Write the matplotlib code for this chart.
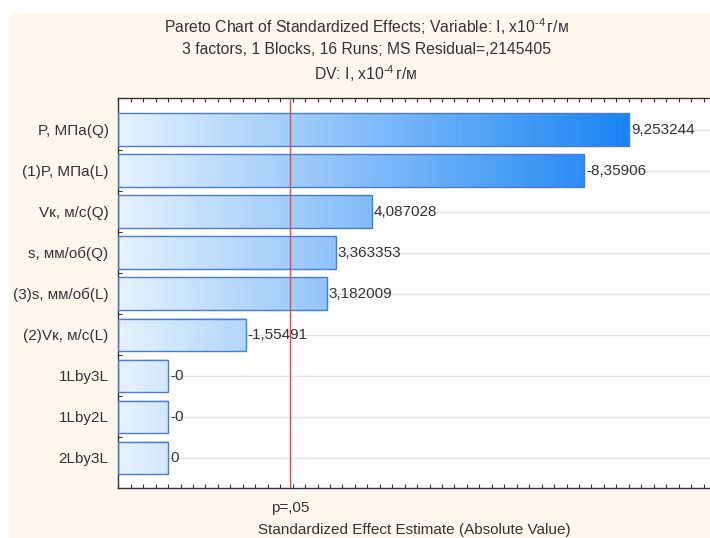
import numpy as np
import matplotlib
matplotlib.use("Agg")
import matplotlib.pyplot as plt
from matplotlib.colors import LinearSegmentedColormap, Normalize
from matplotlib.patches import Rectangle
from matplotlib.ticker import MultipleLocator, FixedLocator

plt.rcParams['font.family'] = ['Liberation Sans', 'DejaVu Sans']
plt.rcParams['mathtext.fontset'] = 'custom'
plt.rcParams['mathtext.rm'] = 'Liberation Sans'
plt.rcParams['mathtext.it'] = 'Liberation Sans'

# ---- data ----
effect_names = ["P, МПа(Q)", "(1)P, МПа(L)", "Vк, м/с(Q)", "s, мм/об(Q)",
                "(3)s, мм/об(L)", "(2)Vк, м/с(L)", "1Lby3L", "1Lby2L", "2Lby3L"]
effect_values = [9.253244, -8.35906, 4.087028, 3.363353, 3.182009,
                 -1.55491, -0.0, -0.0, 0.0]
p_critical = 2.446912
p_label = "p=,05"
title_lines = ["Pareto Chart of Standardized Effects; Variable: I, x10$^{\\text{-4}}\\,$г/м",
               "3 factors, 1 Blocks, 16 Runs; MS Residual=,2145405",
               "DV: I, x10$^{\\text{-4}}\\,$г/м"]
xlabel = "Standardized Effect Estimate (Absolute Value)"

xmin, xmax = -1.0, 10.88
text_color = "#333333"
fs = 11

fig = plt.figure(figsize=(7.10, 5.38), dpi=100)
fig.patch.set_facecolor("white")
fig.add_artist(Rectangle((10/710, 0), 1, 1 - 13/538, transform=fig.transFigure,
                         facecolor="#fdf8ee", edgecolor="none", zorder=0))

ax = fig.add_axes([118.3/710, 1 - 488.3/538, (710 - 118.3)/710, (488.3 - 98.3)/538])
ax.set_facecolor("white")

ypos = np.arange(len(effect_names))
absvals = np.abs(effect_values)
bars = ax.barh(ypos, absvals - xmin, left=xmin, height=0.79,
               facecolor="none", edgecolor="#4a7bd4", linewidth=1.0, zorder=3)

cmap = LinearSegmentedColormap.from_list("grad", ["#e6f2fe", "#1a84f4"])
norm = Normalize(vmin=xmin, vmax=max(absvals))
for b in bars:
    x0, x1 = b.get_x(), b.get_x() + b.get_width()
    y0, y1 = b.get_y(), b.get_y() + b.get_height()
    grad = np.linspace(x0, x1, 256).reshape(1, -1)
    ax.imshow(grad, cmap=cmap, norm=norm, extent=(x0, x1, y0, y1),
              aspect="auto", interpolation="bilinear", zorder=2)

for yv, v, a in zip(ypos, effect_values, absvals):
    ax.text(a + 0.04, yv, f"{v:.7g}".replace(".", ","), va="center", ha="left",
            fontsize=fs, color=text_color, zorder=5)

for yv in ypos:
    ax.axhline(yv, color="#e4e4e4", lw=1.0, zorder=1)

ax.axvline(p_critical, color="#e8474a", lw=1.0, zorder=4)

ax.set_xlim(xmin, xmax)
ax.set_ylim(len(effect_names) - 1 + 0.74, -0.76)

ax.set_yticks(ypos)
ax.set_yticklabels(effect_names, fontsize=fs, color=text_color)
ax.yaxis.set_minor_locator(FixedLocator(ypos[:-1] + 0.5))
ax.xaxis.set_major_locator(FixedLocator([p_critical]))
ax.set_xticklabels([p_label], fontsize=fs, color=text_color)
ax.xaxis.set_minor_locator(MultipleLocator(0.25))

ax.tick_params(axis="x", which="major", direction="in", length=0, pad=9)
ax.tick_params(axis="x", which="minor", direction="in", length=3, top=True,
               color="#333333", width=0.8)
ax.tick_params(axis="y", which="both", direction="in", length=3, pad=7,
               color="#333333", width=0.8)

for s in ["left", "bottom", "top"]:
    ax.spines[s].set_color("#333333")
    ax.spines[s].set_linewidth(1.0)
ax.spines["right"].set_visible(False)

ax.set_xlabel(xlabel, fontsize=fs, color=text_color, labelpad=6)

for i, (line, yy) in enumerate(zip(title_lines, [27, 50, 74])):
    fig.text(366/710, 1 - yy/538, line, ha="center", va="center",
             fontsize=11.3, color=text_color)

fig.savefig("out.png", dpi=100, facecolor=fig.get_facecolor())
